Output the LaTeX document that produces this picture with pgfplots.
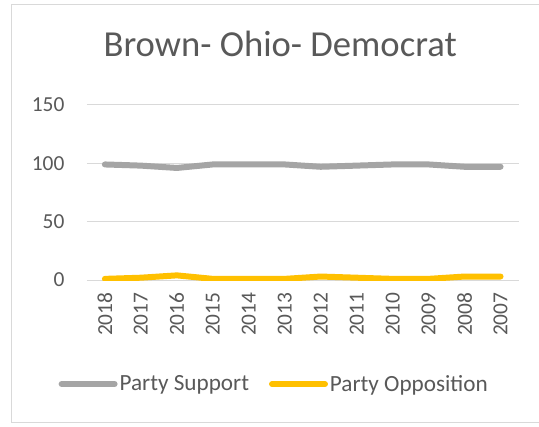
\documentclass[border=0pt]{standalone}
\usepackage{pgfplots}
\pgfplotsset{compat=1.18}
\usepackage{fontspec}
\setmainfont{Carlito}
\definecolor{txt}{HTML}{595959}
\definecolor{grd}{HTML}{D9D9D9}
\definecolor{sup}{HTML}{A5A5A5}
\definecolor{opp}{HTML}{FFC000}
\begin{document}
\begin{tikzpicture}
\fill[white] (0bp,0bp) rectangle (539bp,427bp);
\draw[grd, line width=1bp] (539bp,422bp) -- (12bp,422bp) -- (12bp,4bp) -- (539bp,4bp);
\begin{axis}[
  at={(87bp,146.7bp)}, anchor=south west,
  scale only axis, width=432bp, height=175.3bp,
  xmin=-0.5, xmax=11.5, ymin=0, ymax=150,
  xtick={0,...,11},
  xticklabels={2018,2017,2016,2015,2014,2013,2012,2011,2010,2009,2008,2007},
  ytick={0,50,100,150},
  axis line style={draw=none},
  major tick length=0pt,
  ymajorgrids, grid style={grd, line width=1bp},
  tick label style={font=\fontsize{21.5}{24}\selectfont, text=txt},
  /pgf/number format/assume math mode=true,
  yticklabel style={xshift=-19bp},
  xticklabel style={yshift=-9bp, rotate=90, anchor=east},
  title={Brown- Ohio- Democrat},
  title style={font=\fontsize{36.8}{42}\selectfont, text=txt, at={(0.5,1)}, anchor=center, yshift=55bp, xshift=-22.5bp},
  legend style={at={(0.434,-0.594)}, anchor=center, draw=none, fill=none,
    font=\fontsize{23.3}{27}\selectfont, text=txt, legend columns=2,
    /tikz/every even column/.append style={column sep=18bp}},
  legend image code/.code={\draw[#1, line cap=round] (0bp,0bp) -- (53bp,0bp);},
]
\addplot[sup, line width=6bp, line cap=round, line join=round] coordinates {
(0,99) (1,98) (2,96) (3,99) (4,99) (5,99) (6,97) (7,98) (8,99) (9,99) (10,97) (11,97)};
\addlegendentry{Party Support}
\addplot[opp, line width=6bp, line cap=round, line join=round] coordinates {
(0,1) (1,2) (2,4) (3,1) (4,1) (5,1) (6,3) (7,2) (8,1) (9,1) (10,3) (11,3)};
\addlegendentry{Party Opposition}
\end{axis}
\end{tikzpicture}
\end{document}
